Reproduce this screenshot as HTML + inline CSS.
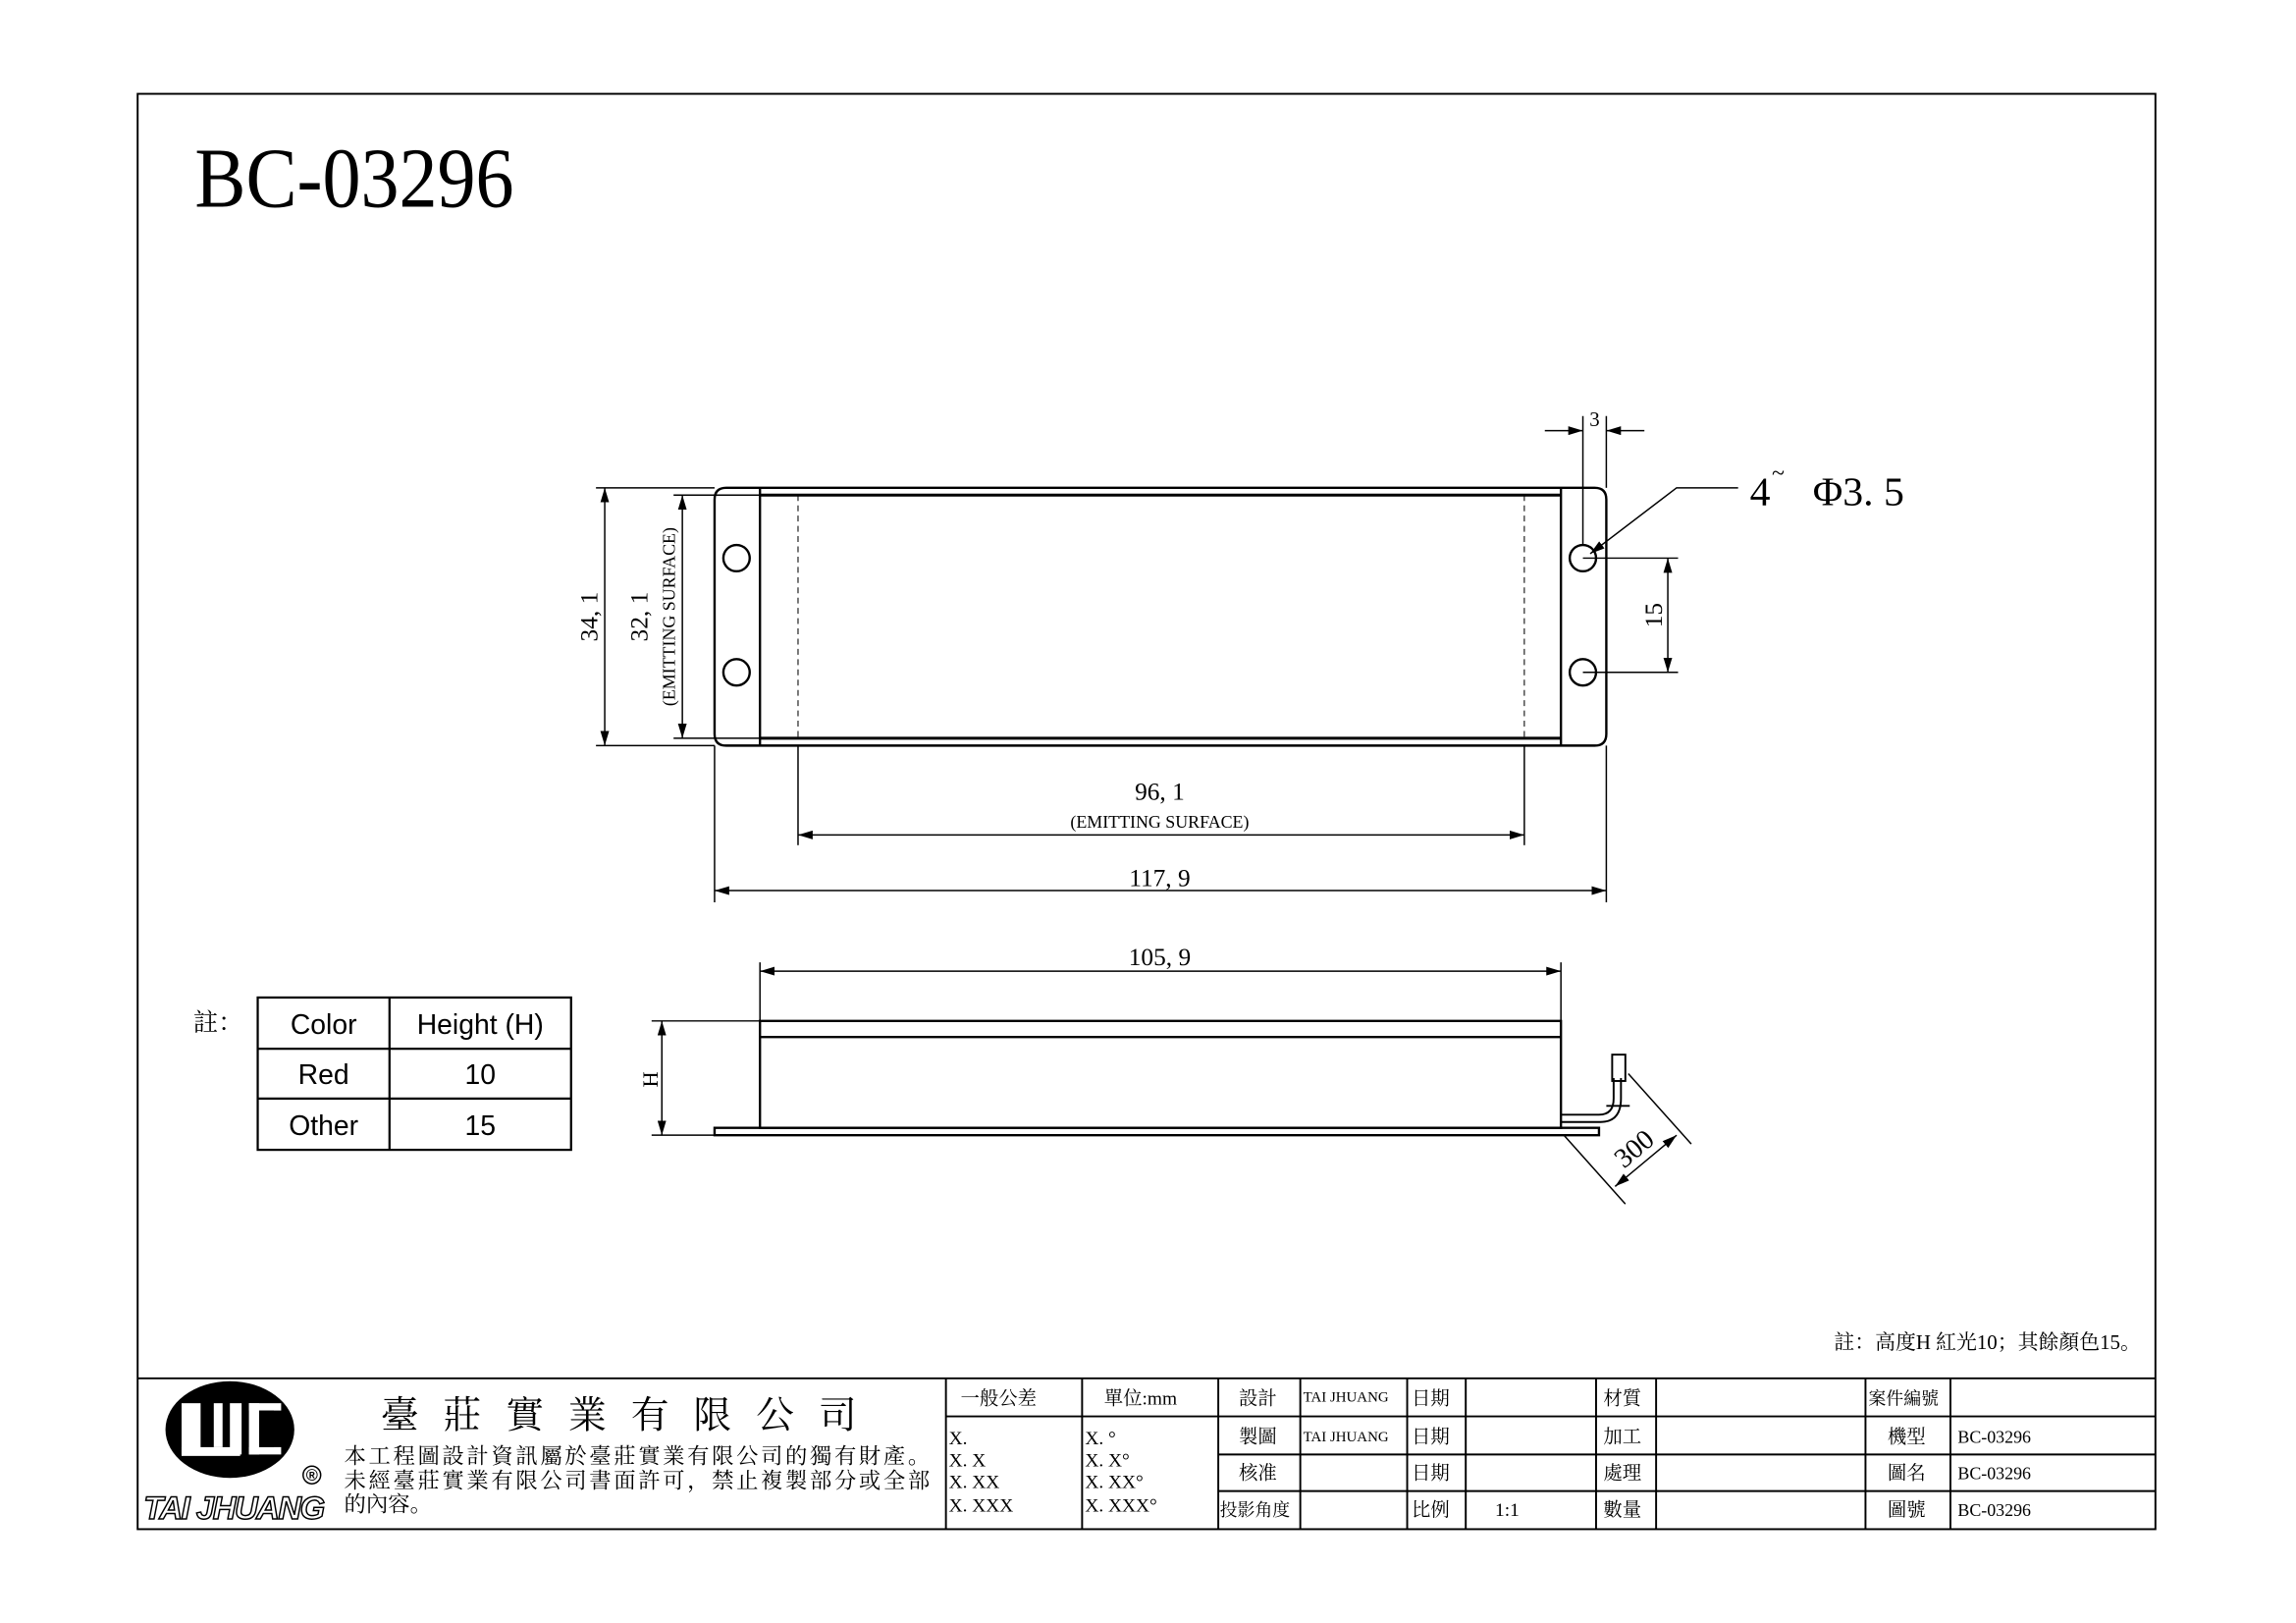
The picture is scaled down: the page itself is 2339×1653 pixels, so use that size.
<!DOCTYPE html>
<html><head><meta charset="utf-8"><style>
html,body{margin:0;padding:0;background:#fff;}
svg{display:block;}
.s{font-family:"Liberation Serif","Noto Serif CJK SC","Noto Sans CJK TC",serif;}
.a{font-family:"Liberation Sans",sans-serif;}
</style></head><body>
<svg width="2339" height="1653" viewBox="0 0 1568 1108" xmlns="http://www.w3.org/2000/svg">
<defs>
<marker id="ar" viewBox="0 0 10 6" refX="10" refY="3" markerWidth="10" markerHeight="6" orient="auto-start-reverse" markerUnits="userSpaceOnUse"><path d="M0,0 L10,3 L0,6 z" fill="#000"/></marker>
</defs>
<g fill="none" stroke="#000" stroke-width="1.3">
<rect x="94" y="64" width="1378" height="980"/>
<line x1="94" y1="941" x2="1472" y2="941"/>
<line x1="646" y1="941" x2="646" y2="1044"/>
<line x1="739" y1="941" x2="739" y2="1044"/>
<line x1="832" y1="941" x2="832" y2="1044"/>
<line x1="888" y1="941" x2="888" y2="1044"/>
<line x1="961" y1="941" x2="961" y2="1044"/>
<line x1="1001" y1="941" x2="1001" y2="1044"/>
<line x1="1090" y1="941" x2="1090" y2="1044"/>
<line x1="1131" y1="941" x2="1131" y2="1044"/>
<line x1="1274" y1="941" x2="1274" y2="1044"/>
<line x1="1332" y1="941" x2="1332" y2="1044"/>
<line x1="646" y1="967" x2="1472" y2="967"/>
<line x1="832" y1="993" x2="1472" y2="993"/>
<line x1="832" y1="1018" x2="1472" y2="1018"/>
</g>
<text class="s" x="133" y="141" font-size="58" textLength="218" lengthAdjust="spacingAndGlyphs">BC-03296</text>

<g fill="none" stroke="#000" stroke-width="1.6">
<path d="M496,333 H1089 Q1097,333 1097,341 V501 Q1097,509 1089,509 H496 Q488,509 488,501 V341 Q488,333 496,333 Z"/>
<line x1="519" y1="333" x2="519" y2="509"/>
<line x1="1066" y1="333" x2="1066" y2="509"/>
<line x1="519" y1="338" x2="1066" y2="338" stroke-width="2"/>
<line x1="519" y1="504" x2="1066" y2="504" stroke-width="2"/>
<circle cx="503" cy="381" r="9"/><circle cx="503" cy="459" r="9"/>
<circle cx="1081" cy="381" r="9"/><circle cx="1081" cy="459" r="9"/>
</g>
<g stroke="#000" stroke-width="0.7" stroke-dasharray="4,3">
<line x1="545" y1="338" x2="545" y2="504"/><line x1="1041" y1="338" x2="1041" y2="504"/>
</g>
<g fill="none" stroke="#000" stroke-width="1">
<line x1="407" y1="333" x2="488" y2="333"/><line x1="407" y1="509" x2="488" y2="509"/>
<line x1="413" y1="333" x2="413" y2="509" marker-start="url(#ar)" marker-end="url(#ar)"/>
<line x1="460" y1="338" x2="519" y2="338"/><line x1="460" y1="504" x2="519" y2="504"/>
<line x1="466" y1="338" x2="466" y2="504" marker-start="url(#ar)" marker-end="url(#ar)"/>
<line x1="545" y1="509" x2="545" y2="577"/><line x1="1041" y1="509" x2="1041" y2="577"/>
<line x1="545" y1="570" x2="1041" y2="570" marker-start="url(#ar)" marker-end="url(#ar)"/>
<line x1="488" y1="509" x2="488" y2="616"/><line x1="1097" y1="509" x2="1097" y2="616"/>
<line x1="488" y1="608" x2="1097" y2="608" marker-start="url(#ar)" marker-end="url(#ar)"/>
<line x1="1081" y1="381" x2="1146" y2="381"/><line x1="1081" y1="459" x2="1146" y2="459"/>
<line x1="1139" y1="381" x2="1139" y2="459" marker-start="url(#ar)" marker-end="url(#ar)"/>
<line x1="1081" y1="284" x2="1081" y2="372"/><line x1="1097" y1="284" x2="1097" y2="333"/>
<line x1="1055" y1="294" x2="1081" y2="294" marker-end="url(#ar)"/>
<line x1="1123" y1="294" x2="1097" y2="294" marker-end="url(#ar)"/>
<polyline points="1187,333 1145,333 1086,378" marker-end="url(#ar)"/>
</g>
<g class="s" font-size="17" text-anchor="middle">
<text x="792" y="546">96, 1</text>
<text x="792" y="565" font-size="12">(EMITTING SURFACE)</text>
<text x="792" y="605">117, 9</text>
<text x="1089" y="291" font-size="14">3</text>
<text transform="translate(408,421) rotate(-90)">34, 1</text>
<text transform="translate(442,421) rotate(-90)">32, 1</text>
<text transform="translate(461,421) rotate(-90)" font-size="12">(EMITTING SURFACE)</text>
<text transform="translate(1135,420) rotate(-90)">15</text>
</g>
<text class="s" x="1195" y="345" font-size="28">4</text>
<text class="s" x="1210" y="328" font-size="16">~</text>
<text class="s" x="1238" y="345" font-size="28">Φ3. 5</text>

<g fill="none" stroke="#000" stroke-width="1.6">
<rect x="519" y="697" width="547" height="73"/>
<line x1="519" y1="708" x2="1066" y2="708"/>
<path d="M488,770 H1092 V775 H488 Z"/>
<path d="M1066,761 H1092 Q1102,761 1102,750 V736" stroke-width="1.3"/>
<path d="M1066,766 H1093 Q1107,766 1107,750 V736" stroke-width="1.3"/>
<rect x="1101" y="720" width="9" height="18" stroke-width="1.3"/>
<line x1="1097" y1="755" x2="1113" y2="755" stroke-width="1.3"/>
</g>
<g fill="none" stroke="#000" stroke-width="1">
<line x1="519" y1="657" x2="519" y2="697"/><line x1="1066" y1="657" x2="1066" y2="697"/>
<line x1="519" y1="663" x2="1066" y2="663" marker-start="url(#ar)" marker-end="url(#ar)"/>
<line x1="445" y1="697" x2="519" y2="697"/><line x1="445" y1="775" x2="488" y2="775"/>
<line x1="452" y1="697" x2="452" y2="775" marker-start="url(#ar)" marker-end="url(#ar)"/>
<line x1="1068" y1="775" x2="1110" y2="822"/>
<line x1="1112" y1="733" x2="1155" y2="781"/>
<line x1="1103" y1="810" x2="1145" y2="775" marker-start="url(#ar)" marker-end="url(#ar)"/>
</g>
<text class="s" x="792" y="659" font-size="17" text-anchor="middle">105, 9</text>
<text class="s" transform="translate(449,737) rotate(-90)" font-size="15" text-anchor="middle">H</text>
<text class="s" transform="translate(1120,789) rotate(-40)" font-size="19" text-anchor="middle">300</text>

<text class="s" x="132" y="704" font-size="17">註：</text>
<g fill="none" stroke="#000" stroke-width="1.5">
<rect x="176" y="681" width="214" height="104"/>
<line x1="266" y1="681" x2="266" y2="785"/>
<line x1="176" y1="716" x2="390" y2="716"/><line x1="176" y1="750" x2="390" y2="750"/>
</g>
<g class="a" font-size="19" text-anchor="middle">
<text x="221" y="706">Color</text><text x="328" y="706">Height (H)</text>
<text x="221" y="740">Red</text><text x="328" y="740">10</text>
<text x="221" y="775">Other</text><text x="328" y="775">15</text>
</g>
<text class="s" x="1462" y="921" font-size="14" text-anchor="end">註：高度H 紅光10；其餘顏色15。</text>

<ellipse cx="157" cy="976" rx="44" ry="33" fill="#000"/>
<g fill="#fff">
<rect x="124" y="958" width="13" height="35"/>
<rect x="124" y="988" width="40" height="6"/>
<rect x="146" y="958" width="6" height="30"/>
<rect x="157" y="958" width="8" height="35"/>
<rect x="170" y="958" width="22" height="5"/>
<rect x="170" y="988" width="22" height="5"/>
<rect x="170" y="958" width="7" height="35"/>
</g>
<rect x="177" y="963" width="10" height="25" fill="#000"/>
<text x="213" y="1011" font-size="11" text-anchor="middle" class="a" font-weight="bold">®</text>
<circle cx="213" cy="1007" r="6" fill="none" stroke="#000" stroke-width="1"/>
<text x="98" y="1037" font-size="22" class="a" font-style="italic" font-weight="bold" fill="#fff" stroke="#000" stroke-width="1" textLength="124">TAI JHUANG</text>
<text class="s" x="260" y="975" font-size="26" textLength="325">臺莊實業有限公司</text>
<g class="s" font-size="15">
<text x="235" y="999" textLength="400">本工程圖設計資訊屬於臺莊實業有限公司的獨有財產。</text>
<text x="235" y="1016" textLength="400">未經臺莊實業有限公司書面許可，禁止複製部分或全部</text>
<text x="235" y="1032">的內容。</text>
</g>
<g class="s" font-size="13">
<text x="656" y="959">一般公差</text>
<text x="754" y="959">單位:mm</text>
<text x="648" y="986">X.</text><text x="648" y="1001">X. X</text><text x="648" y="1016">X. XX</text><text x="648" y="1032">X. XXX</text>
<text x="741" y="986">X. °</text><text x="741" y="1001">X. X°</text><text x="741" y="1016">X. XX°</text><text x="741" y="1032">X. XXX°</text>
<text x="846" y="959">設計</text><text x="846" y="985">製圖</text><text x="846" y="1010">核准</text><text x="833" y="1035" font-size="12">投影角度</text>
<text x="890" y="957" font-size="10">TAI JHUANG</text><text x="890" y="984" font-size="10">TAI JHUANG</text>
<text x="964" y="959">日期</text><text x="964" y="985">日期</text><text x="964" y="1010">日期</text><text x="964" y="1035">比例</text>
<text x="1021" y="1035">1:1</text>
<text x="1095" y="959">材質</text><text x="1095" y="985">加工</text><text x="1095" y="1010">處理</text><text x="1095" y="1035">數量</text>
<text x="1276" y="959" font-size="12">案件編號</text>
<text x="1289" y="985">機型</text><text x="1289" y="1010">圖名</text><text x="1289" y="1035">圖號</text>
<text x="1337" y="985" font-size="12">BC-03296</text><text x="1337" y="1010" font-size="12">BC-03296</text><text x="1337" y="1035" font-size="12">BC-03296</text>
</g>
</svg>
</body></html>
